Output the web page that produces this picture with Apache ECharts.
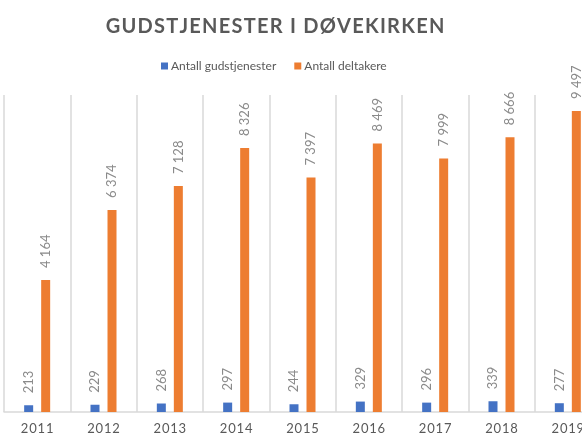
<!DOCTYPE html>
<html>
<head>
<meta charset="utf-8">
<script src="https://cdn.jsdelivr.net/npm/echarts@6/dist/echarts.min.js"></script>
<style>
html, body { margin: 0; padding: 0; background: #fff; }
#chart { width: 582px; height: 434px; }
</style>
</head>
<body>
<div id="chart"></div>
<script>
// years and the two series
const years = ['2011', '2012', '2013', '2014', '2015', '2016', '2017', '2018', '2019']
const gudstjenester = [213, 229, 268, 297, 244, 329, 296, 339, 277]
const deltakere = [4164, 6374, 7128, 8326, 7397, 8469, 7999, 8666, 9497]
const titleText = 'GUDSTJENESTER I DØVEKIRKEN'

const grey = '#595959'
const font = 'Lato'

function spaced(v) {
    return String(v).replace(/\B(?=(\d{3})+(?!\d))/g, ' ')
}
// wider letter spacing, like the original
function tracked(s) {
    return s.split('').join('\u200A')
}

const chart = echarts.init(document.getElementById('chart'))
const labelStyle = {
    show: true,
    position: 'top',
    rotate: 90,
    align: 'left',
    verticalAlign: 'middle',
    distance: 12,
    color: '#8a8a8a',
    fontFamily: font,
    fontSize: 13,
    formatter: p => spaced(p.value)
}
const option = {
    backgroundColor: '#fff',
    animation: false,
    title: {
        text: tracked(titleText),
        left: 270,
        textAlign: 'center',
        top: 12,
        textStyle: {
            color: grey,
            fontFamily: font,
            fontWeight: 'bold',
            fontSize: 20
        }
    },
    legend: {
        data: ['Antall gudstjenester', 'Antall deltakere'],
        left: 156,
        top: 55,
        itemWidth: 7,
        itemHeight: 7,
        itemGap: 18,
        icon: 'rect',
        textStyle: {
            color: grey,
            fontFamily: font,
            fontSize: 12,
            padding: [0, 0, 0, -2]
        }
    },
    grid: {
        left: 4,
        right: -19,
        top: 95,
        bottom: 22,
        outerBoundsMode: 'none'
    },
    xAxis: {
        type: 'category',
        data: years,
        axisLine: { lineStyle: { color: '#d9d9d9', width: 1.5 } },
        axisTick: { show: false },
        splitLine: { show: true, lineStyle: { color: '#d9d9d9', width: 1.5 } },
        axisLabel: {
            color: grey,
            fontFamily: font,
            fontSize: 13,
            margin: 10,
            interval: 0,
            formatter: v => tracked(v)
        }
    },
    yAxis: {
        type: 'value',
        min: 0,
        max: 10000,
        show: false
    },
    series: [
        {
            name: 'Antall gudstjenester',
            type: 'bar',
            barWidth: 9,
            barGap: '89%',
            itemStyle: { color: '#4472C4' },
            label: labelStyle,
            data: gudstjenester
        },
        {
            name: 'Antall deltakere',
            type: 'bar',
            barWidth: 9,
            barGap: '89%',
            itemStyle: { color: '#ED7D31' },
            label: labelStyle,
            data: deltakere
        }
    ]
}
chart.setOption(option)
</script>
</body>
</html>
